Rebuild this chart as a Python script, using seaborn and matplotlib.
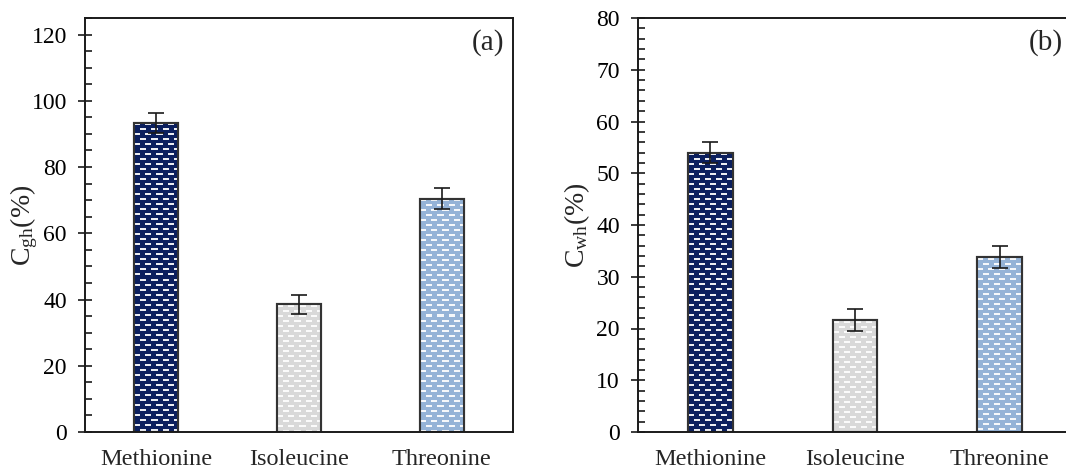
import numpy as np
import matplotlib
matplotlib.use("Agg")
import matplotlib.pyplot as plt
from matplotlib.patches import Rectangle
from matplotlib.ticker import MultipleLocator
import seaborn as sns

# data
amino = ["Methionine", "Isoleucine", "Threonine"]
cgh = [93.4, 38.5, 70.5]
cgh_err = [3.0, 2.9, 3.1]
cwh = [54.0, 21.6, 33.8]
cwh_err = [2.0, 2.1, 2.1]
bar_colors = ["#0b1f5e", "#d9d9d9", "#95b3d7"]

sns.set_style("ticks")
plt.rcParams["font.family"] = ["Liberation Serif", "DejaVu Serif"]
plt.rcParams["mathtext.fontset"] = "custom"
plt.rcParams["mathtext.rm"] = "Liberation Serif"
plt.rcParams["mathtext.it"] = "Liberation Serif:italic"

fig = plt.figure(figsize=(10.66, 4.68), dpi=100)
ax1 = fig.add_axes([85 / 1066, 36 / 468, 428 / 1066, 414 / 468])
ax2 = fig.add_axes([638 / 1066, 36 / 468, 434 / 1066, 414 / 468])

edge = "#333333"


def brick_fill(ax, patch, color):
    # white dash pattern, clipped to the bar
    bb = patch.get_window_extent()
    nx, ny = max(int(round(bb.width)), 1), max(int(round(bb.height)), 1)
    rgb = np.array(matplotlib.colors.to_rgb(color))
    img = np.tile(rgb, (ny, nx, 1))
    for j in range(ny):
        r = j % 5
        if r not in (1, 2):
            continue
        off = 0 if (j // 5) % 2 == 0 else 5
        for i in range(nx):
            if (i + off) % 11 < 6:
                img[j, i] = 0.08 * rgb + 0.92
    x0, y0 = patch.get_x(), patch.get_y()
    im = ax.imshow(img, extent=(x0, x0 + patch.get_width(), y0, y0 + patch.get_height()),
                   aspect="auto", interpolation="nearest", zorder=patch.get_zorder() + 0.1,
                   origin="upper")
    im.set_clip_path(patch)
    ax.add_patch(Rectangle((x0, y0), patch.get_width(), patch.get_height(), fill=False,
                           edgecolor=edge, linewidth=1.5, zorder=patch.get_zorder() + 0.2))


def panel(ax, vals, errs, ymax, major, minor, ylabel, tag):
    sns.barplot(x=amino, y=vals, hue=amino, palette=bar_colors, legend=False,
                width=0.31, edgecolor=edge, linewidth=1.5, ax=ax)
    ax.set_xlim(-0.5, 2.5)
    ax.set_ylim(0, ymax)
    for p, c in zip(ax.patches, bar_colors):
        brick_fill(ax, p, c)
    ax.errorbar(range(len(amino)), vals, yerr=errs, fmt="none", ecolor="#1a1a1a",
                elinewidth=1.2, capsize=6, capthick=1.2, zorder=5)
    ax.yaxis.set_major_locator(MultipleLocator(major))
    ax.yaxis.set_minor_locator(MultipleLocator(minor))
    ax.tick_params(axis="y", which="major", direction="inout", length=10, width=1.2,
                   labelsize=17, pad=8, colors="#1a1a1a", labelcolor="black")
    ax.tick_params(axis="y", which="minor", direction="in", length=5, width=1.2,
                   colors="#1a1a1a")
    ax.tick_params(axis="x", length=0, labelsize=17.5, pad=12)
    for s in ax.spines.values():
        s.set_visible(True)
        s.set_linewidth(1.4)
        s.set_color("#1a1a1a")
    ax.set_ylabel(ylabel, fontsize=20)
    ax.yaxis.set_label_coords(-0.105, 0.5)
    ax.set_xlabel("")
    ax.text(0.98, 0.94, tag, transform=ax.transAxes, ha="right", va="center", fontsize=21)


panel(ax1, cgh, cgh_err, 125, 20, 5, r"C$_{\mathrm{gh}}$(%)", "(a)")
panel(ax2, cwh, cwh_err, 80, 10, 2, r"C$_{\mathrm{wh}}$(%)", "(b)")

fig.savefig("out.png", dpi=100)
